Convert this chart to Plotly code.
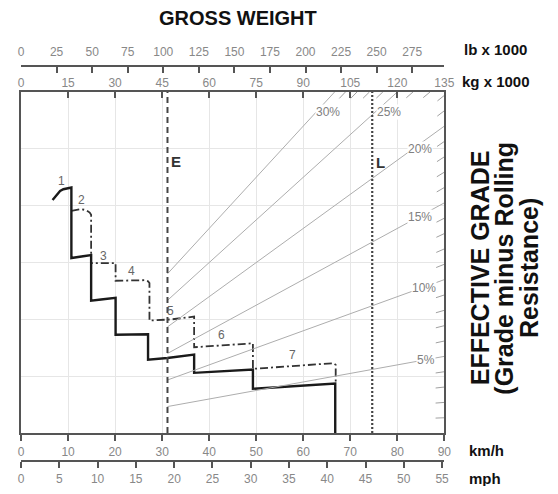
import plotly.graph_objects as go

# rimpull curves, speed in km/h, rimpull in kg x 1000
full_kmh = [6.7, 7.6, 8.3, 9.0, 10.7, 10.7, 12.0, 13.2, 14.9, 14.9, 17.0, 19.7, 20.1,
            20.1, 27.0, 27.0, 31.1, 36.8, 36.8, 49.3, 49.3, 66.8, 66.8]
full_rim = [20.5, 21.0, 21.3, 21.45, 21.6, 15.4, 15.5, 15.55, 15.65, 11.65, 11.75, 11.85, 11.9,
            8.65, 8.7, 6.45, 6.6, 6.9, 5.3, 5.6, 3.9, 4.35, 0]
dash_kmh = [10.7, 12.8, 13.9, 14.6, 14.9, 14.9, 20.1, 20.1, 26.3, 27.0, 27.3, 27.3, 32.0,
            36.8, 36.8, 49.3, 49.3, 66.4, 66.9, 66.9]
dash_rim = [19.55, 19.7, 19.6, 19.4, 19.2, 14.95, 14.95, 13.4, 13.45, 13.35, 13.2, 9.9, 10.0,
            10.25, 7.55, 7.9, 5.65, 6.15, 6.0, 4.4]
gears = ['1', '2', '3', '4', '5', '6', '7']
gear_kmh = [8.5, 12.8, 17.6, 23.5, 31.8, 42.7, 57.8]
gear_rim = [22.2, 20.5, 15.55, 14.25, 10.75, 8.6, 6.85]

# weights, kg x 1000
empty_kg = 46.7
loaded_kg = 112.0
kg_max = 135
rim_max = 30
grades = [5, 10, 15, 20, 25, 30]
grade_lab_kg = [129.1, 128.4, 127.1, 127.1, 117.2, 98.0]
grade_lab_rim = [6.45, 12.8, 19.05, 25.0, 28.2, 28.2]
minor_grades = [g for g in range(1, 30) if g % 5 != 0]

kmh_ticks = list(range(0, 91, 10))
mph_ticks = list(range(0, 56, 5))
lb_ticks = list(range(0, 276, 25))
kg_ticks = list(range(0, 136, 15))

# the page keeps its 8px body margin, so the figure is made 16px smaller
# and all positions below are window pixels
OFF = 8
W, H = 558 - 2 * OFF, 494 - 2 * OFF
L, R, T, B = 18.3, 452, 92.7, 436.7
pxkg = (R - L) / kg_max
pxrim = (B - T) / rim_max


def fx(x):
    return (x - OFF) / W


def fy(y):
    return 1 - (y - OFF) / H


font = 'Liberation Sans, Arial, sans-serif'
tickfont = dict(family=font, size=12, color='#888')

fig = go.Figure()

# grade lines
for g in grades:
    w_end = min(kg_max, rim_max * 100 / g)
    fig.add_trace(go.Scatter(x=[empty_kg, w_end], y=[empty_kg * g / 100, w_end * g / 100],
                             xaxis='x5', yaxis='y', mode='lines',
                             line=dict(color='#adadad', width=1), hoverinfo='skip'))
for g in minor_grades:
    w_end = min(kg_max, rim_max * 100 / g)
    dw = 9 / ((pxkg ** 2 + (pxrim * g / 100) ** 2) ** 0.5)
    fig.add_trace(go.Scatter(x=[w_end - dw, w_end], y=[(w_end - dw) * g / 100, w_end * g / 100],
                             xaxis='x5', yaxis='y', mode='lines',
                             line=dict(color='#a0a0a0', width=1), hoverinfo='skip'))

# empty / loaded weight lines
fig.add_trace(go.Scatter(x=[empty_kg, empty_kg], y=[0, rim_max], xaxis='x5', yaxis='y',
                         mode='lines', line=dict(color='#444', width=2, dash='6px,4px')))
fig.add_trace(go.Scatter(x=[loaded_kg, loaded_kg], y=[0, rim_max], xaxis='x5', yaxis='y',
                         mode='lines', line=dict(color='#444', width=2.2, dash='2px,2px')))

fig.add_trace(go.Scatter(x=dash_kmh, y=dash_rim, mode='lines',
                         line=dict(color='#333', width=1.8, dash='8px,3px,2px,3px')))
fig.add_trace(go.Scatter(x=full_kmh, y=full_rim, mode='lines',
                         line=dict(color='#1a1a1a', width=2.4)))

# invisible traces so the extra scales get drawn
for ax in ['x2', 'x3', 'x4']:
    fig.add_trace(go.Scatter(x=[0], y=[0], xaxis=ax, yaxis='y', mode='markers',
                             marker=dict(opacity=0), hoverinfo='skip'))

ann = []
for g, gx, gy in zip(grades, grade_lab_kg, grade_lab_rim):
    ann.append(dict(x=gx, y=gy, xref='x5', yref='y', text=f'{g}%', showarrow=False,
                    xanchor='center', yanchor='middle', bgcolor='white', borderpad=0,
                    font=dict(family=font, size=12, color='#808080')))
for t, gx, gy in zip(gears, gear_kmh, gear_rim):
    ann.append(dict(x=gx, y=gy, xref='x', yref='y', text=t, showarrow=False,
                    xanchor='center', yanchor='middle',
                    font=dict(family=font, size=12, color='#666')))


def paper_text(txt, x, y, size, anchor='center', angle=0, color='#111'):
    ann.append(dict(x=fx(x), y=fy(y), xref='paper', yref='paper', text=txt, showarrow=False,
                    xanchor=anchor, yanchor='middle', textangle=angle,
                    font=dict(family=font, size=size, color=color)))


paper_text('<b>E</b>', 176.7, 162.7, 15, color='#333')
paper_text('<b>L</b>', 386.7, 163.3, 15, color='#333')
paper_text('<b>GROSS WEIGHT</b>', 241, 18, 20)
for txt, ux, uy in [('lb x 1000', 470, 50), ('kg x 1000', 468, 82), ('km/h', 475, 454), ('mph', 475, 482)]:
    paper_text(f'<b>{txt}</b>', ux, uy, 15, anchor='left')
for txt, tx in [('EFFECTIVE GRADE', 488), ('(Grade minus Rolling', 513), ('Resistance)', 539)]:
    paper_text(f'<b>{txt}</b>', tx, 270, 25, angle=-90)

dom_x = [fx(L), fx(R)]
dom_y = [fy(B), fy(T)]
axline = dict(showline=True, linecolor='#555', linewidth=2, zeroline=False)

fig.update_layout(
    width=W, height=H, margin=dict(l=0, r=0, t=0, b=0),
    paper_bgcolor='white', plot_bgcolor='white', showlegend=False,
    annotations=ann,
    xaxis=dict(domain=dom_x, range=[0, 90], tickvals=kmh_ticks, ticks='outside', ticklen=6,
               tickcolor='#555', tickwidth=1.5, showgrid=True, gridcolor='#e6e6e6', gridwidth=1,
               tickfont=tickfont, **axline),
    yaxis=dict(domain=dom_y, range=[0, rim_max], dtick=5, showticklabels=False, ticks='',
               showgrid=True, gridcolor='#e6e6e6', mirror=True, **axline),
    xaxis2=dict(overlaying='x', anchor='free', position=fy(465), side='bottom',
                range=[0, 55.3], tickvals=mph_ticks, ticks='outside', ticklen=6, tickcolor='#555',
                tickwidth=1.5, showgrid=False, tickfont=tickfont, **axline),
    xaxis3=dict(overlaying='x', anchor='free', position=fy(66), side='top',
                range=[0, kg_max * 2.2046], tickvals=lb_ticks, ticks='inside', ticklen=6,
                tickcolor='#555', tickwidth=1.5, showgrid=False, tickfont=tickfont,
                ticklabelstandoff=4, **axline),
    xaxis4=dict(overlaying='x', anchor='free', position=fy(66), side='bottom',
                range=[0, kg_max], tickvals=kg_ticks, ticks='', showgrid=False,
                showline=False, zeroline=False, tickfont=tickfont, ticklabelstandoff=8),
    xaxis5=dict(overlaying='x', anchor='y', side='top', range=[0, kg_max], tickvals=kg_ticks,
                ticks='inside', ticklen=6, tickcolor='#555', tickwidth=1.5, showticklabels=False,
                showgrid=False, **axline),
)

fig.write_html("out.html", config={'displayModeBar': False})
